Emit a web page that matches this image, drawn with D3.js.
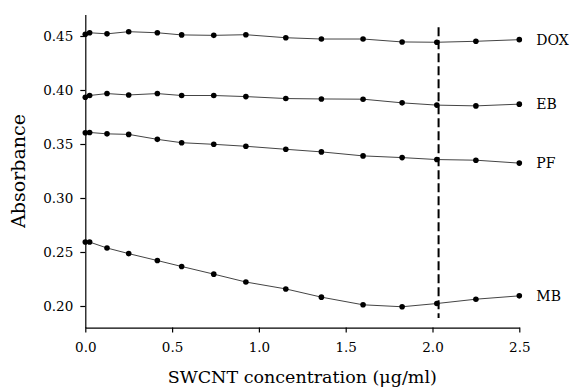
<!DOCTYPE html>
<html>
<head>
<meta charset="utf-8">
<script src="https://cdn.jsdelivr.net/npm/d3@7"></script>
<style>
  html, body { margin: 0; padding: 0; background: #fff; }
  svg { display: block; }
  text { font-family: "DejaVu Serif", serif; fill: #000; }
</style>
</head>
<body>
<svg id="chart" width="570" height="389"></svg>
<script>
// ---- data ----
const concentrations = [0, 0.025, 0.125, 0.25, 0.415, 0.555, 0.74, 0.925, 1.155, 1.36, 1.6, 1.825, 2.025, 2.25, 2.5];
const seriesNames = ["DOX", "EB", "PF", "MB"];
const doxValues = [0.4516, 0.453, 0.452, 0.454, 0.453, 0.451, 0.4506, 0.4512, 0.4484, 0.4472, 0.4472, 0.4445, 0.4442, 0.4451, 0.4466];
const ebValues  = [0.3933, 0.3949, 0.3967, 0.3954, 0.3967, 0.3949, 0.3949, 0.3939, 0.3921, 0.3917, 0.3915, 0.3881, 0.386, 0.3853, 0.3869];
const pfValues  = [0.3604, 0.3607, 0.3594, 0.3589, 0.3543, 0.3512, 0.3497, 0.3479, 0.3451, 0.3427, 0.339, 0.3374, 0.3356, 0.335, 0.3323];
const mbValues  = [0.2592, 0.2592, 0.2537, 0.2485, 0.2421, 0.2366, 0.2295, 0.2222, 0.2158, 0.2082, 0.2011, 0.1993, 0.2023, 0.2063, 0.2094];
const xTicks = [0, 0.5, 1.0, 1.5, 2.0, 2.5];
const yTicks = [0.20, 0.25, 0.30, 0.35, 0.40, 0.45];
const markerX = 2.035;
const markerYRange = [0.189, 0.458];
const xTitle = "SWCNT concentration (\u03bcg/ml)";
const yTitle = "Absorbance";

// ---- chart ----
const svg = d3.select("#chart");
const x = d3.scaleLinear().domain([0, 2.5]).range([85.3, 519.3]);
const y = d3.scaleLinear().domain([0.18, 0.47]).range([327.6, 14.4]);

const allSeries = [doxValues, ebValues, pfValues, mbValues].map((vals, i) => ({
  name: seriesNames[i],
  points: concentrations.map((c, j) => ({ x: c, y: vals[j] }))
}));

// axes
const xAxis = d3.axisBottom(x).tickValues(xTicks).tickFormat(d3.format(".1f"))
  .tickSizeInner(5).tickSizeOuter(0).tickPadding(10);
const yAxis = d3.axisLeft(y).tickValues(yTicks).tickFormat(d3.format(".2f"))
  .tickSizeInner(5).tickSizeOuter(0).tickPadding(7);

const gx = svg.append("g").attr("transform", `translate(0,${y(0.18)})`).call(xAxis);
const gy = svg.append("g").attr("transform", `translate(${x(0)},0)`).call(yAxis);
[gx, gy].forEach(g => {
  g.selectAll("path.domain").attr("stroke", "#000").attr("stroke-width", 1.2);
  g.selectAll(".tick line").attr("stroke", "#000").attr("stroke-width", 1.2);
  g.selectAll(".tick text").style("font-family", "DejaVu Serif").style("font-size", "13.5px").attr("fill", "#000");
});

// dashed vertical marker
svg.append("line")
  .attr("x1", x(markerX)).attr("x2", x(markerX))
  .attr("y1", y(markerYRange[1])).attr("y2", y(markerYRange[0]))
  .attr("stroke", "#000").attr("stroke-width", 2)
  .attr("stroke-dasharray", "9,4");

// lines
const line = d3.line().x(d => x(d.x)).y(d => y(d.y));
const gs = svg.append("g").selectAll("g").data(allSeries).join("g");
gs.append("path")
  .attr("d", d => line(d.points))
  .attr("fill", "none").attr("stroke", "#444").attr("stroke-width", 1);
gs.selectAll("circle").data(d => d.points).join("circle")
  .attr("cx", d => x(d.x)).attr("cy", d => y(d.y)).attr("r", 2.8).attr("fill", "#000");
gs.append("text")
  .attr("x", d => x(d.points[d.points.length - 1].x) + 17)
  .attr("y", d => y(d.points[d.points.length - 1].y))
  .attr("dy", "0.36em")
  .style("font-size", "14px")
  .text(d => d.name);

// titles
svg.append("text")
  .attr("x", (x(0) + x(2.5)) / 2).attr("y", 383)
  .attr("text-anchor", "middle").style("font-size", "17.5px")
  .text(xTitle);
svg.append("text")
  .attr("transform", `translate(25,${(y(0.18) + y(0.47)) / 2}) rotate(-90)`)
  .attr("text-anchor", "middle").style("font-size", "19px")
  .text(yTitle);
</script>
</body>
</html>
